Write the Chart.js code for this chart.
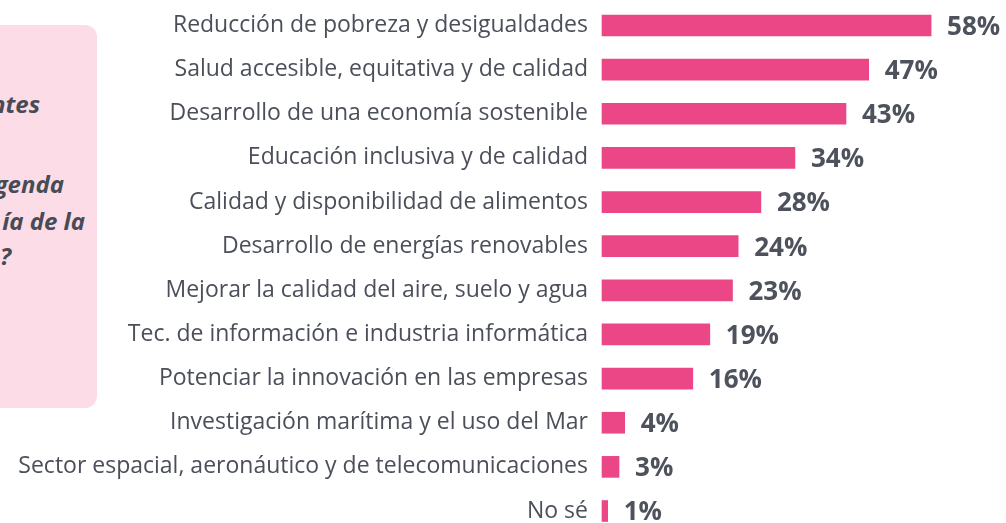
<!DOCTYPE html>
<html>
<head>
<meta charset="utf-8">
<script src="https://cdn.jsdelivr.net/npm/chart.js@4"></script>
<style>
  html, body { margin: 0; padding: 0; background: #fff; overflow: hidden; }
  #wrap { position: relative; width: 1006px; height: 523px; }
  #box {
    position: absolute; left: -20px; top: 25px; width: 117px; height: 383px;
    background: #fcdce7; border-radius: 12px; overflow: hidden;
  }
  #box div {
    position: absolute; white-space: nowrap;
    font: italic bold 24px "Open Sans", sans-serif; color: #464b55;
  }
  canvas { position: absolute; left: 0; top: 0; }
</style>
</head>
<body>
<div id="wrap">
  <div id="box">
    <div style="right:57px; top:62px">ntes</div>
    <div style="right:33px; top:142px">genda</div>
    <div style="right:12px; top:179px">ía de la</div>
    <div style="right:86px; top:214px">?</div>
  </div>
  <canvas id="chart" width="1006" height="523"></canvas>
</div>
<script>
const categories = [
  "Reducción de pobreza y desigualdades",
  "Salud accesible, equitativa y de calidad",
  "Desarrollo de una economía sostenible",
  "Educación inclusiva y de calidad",
  "Calidad y disponibilidad de alimentos",
  "Desarrollo de energías renovables",
  "Mejorar la calidad del aire, suelo y agua",
  "Tec. de información e industria informática",
  "Potenciar la innovación en las empresas",
  "Investigación marítima y el uso del Mar",
  "Sector espacial, aeronáutico y de telecomunicaciones",
  "No sé"
];
const values = [58, 47, 43, 34, 28, 24, 23, 19, 16, 4, 3, 1];

const valueLabels = {
  id: "valueLabels",
  afterDatasetsDraw(chart) {
    const ctx = chart.ctx;
    ctx.save();
    ctx.font = "bold 26px 'Open Sans', sans-serif";
    ctx.fillStyle = "#4d525c";
    ctx.textAlign = "left";
    ctx.textBaseline = "middle";
    chart.getDatasetMeta(0).data.forEach((bar, i) => {
      ctx.fillText(values[i] + "%", bar.x + 16, bar.y + 2);
    });
    ctx.restore();
  }
};

new Chart(document.getElementById("chart").getContext("2d"), {
  type: "bar",
  data: {
    labels: categories,
    datasets: [
      {
        data: values,
        backgroundColor: "#eb4787",
        borderWidth: 0,
        barThickness: 21,
        clip: false,
      },
    ],
  },
  options: {
    indexAxis: "y",
    responsive: false,
    animation: false,
    layout: { padding: { top: 25.5, bottom: 12, left: 0, right: 0 } },
    plugins: { legend: { display: false }, tooltip: { enabled: false } },
    scales: {
      x: { display: false, min: 0, max: 71.2 },
      y: {
        offset: false,
        grid: { display: false, drawTicks: false },
        border: { display: false },
        ticks: {
          padding: 14,
          color: "#4a4f59",
          font: { family: "'Open Sans', sans-serif", size: 23 },
        },
        afterFit(scale) {
          scale.width = 602;
          scale.paddingTop = 0;
          scale.paddingBottom = 0;
        },
      },
    },
  },
  plugins: [valueLabels],
});
</script>
</body>
</html>
